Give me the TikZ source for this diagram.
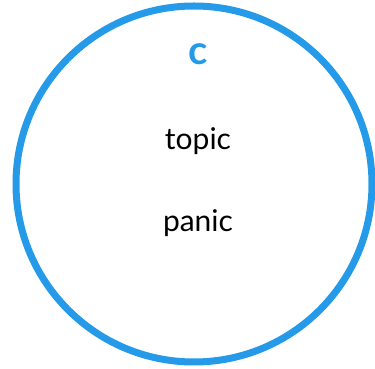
\documentclass[tikz,border=0pt]{standalone}
\usepackage{fontspec}
\setmainfont{Lato}
\definecolor{ringblue}{RGB}{36,154,232}
\begin{document}
\begin{tikzpicture}[x=1pt,y=1pt,
  word/.style={anchor=base,inner sep=0pt,font=\fontsize{30}{36}\selectfont,text=black},
  head/.style={anchor=base,inner sep=0pt,font=\fontsize{40}{48}\selectfont\bfseries,text=ringblue}]
\useasboundingbox (0,0) rectangle (375,369);
\fill[white] (0,0) rectangle (375,369);
\draw[ringblue,line width=7pt] (194,185) circle[radius=178];
\node[head] (c) at (198,304) {c};
\node[word] (topic) at (198,219) {topic};
\node[word] (panic) at (198,137) {panic};
\end{tikzpicture}
\end{document}
